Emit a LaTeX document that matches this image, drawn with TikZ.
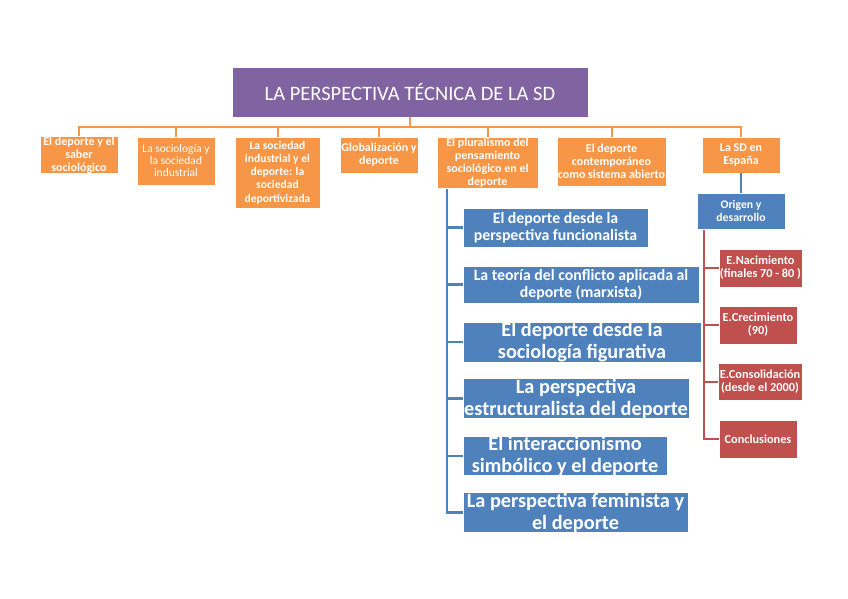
\documentclass[tikz,border=0pt]{standalone}
\usepackage{fontspec}
\setmainfont{Carlito}
\definecolor{cpurple}{HTML}{8064A2}
\definecolor{corange}{HTML}{F79646}
\definecolor{cblue}{HTML}{4F81BD}
\definecolor{cred}{HTML}{C0504D}
\begin{document}
\begin{tikzpicture}[x=1pt,y=-1pt,
  box/.style={rectangle, draw=white, line width=0.6pt, inner sep=0pt, align=center, text=white},
  tbox/.style={box, fill=cpurple, font=\fontsize{20.5}{23}\selectfont},
  obox/.style={box, fill=corange, font=\fontsize{12}{13}\selectfont\bfseries},
  bbox/.style={box, fill=cblue, font=\fontsize{15.8}{17.5}\selectfont\bfseries},
  bigbox/.style={box, fill=cblue, font=\fontsize{20.3}{22}\selectfont\bfseries},
  rbox/.style={box, fill=cred, font=\fontsize{12.3}{13}\selectfont\bfseries},
  oline/.style={draw=corange, line width=2pt},
  bline/.style={draw=cblue, line width=2.5pt},
  rline/.style={draw=cred, line width=2pt}]
\useasboundingbox[fill=white] (0,0) rectangle (848,599);

\node[tbox, minimum width=356pt, minimum height=50pt] (t) at (410,92) {LA PERSPECTIVA TÉCNICA DE LA SD};

\node[obox, minimum width=78pt, minimum height=36pt] (o1) at (79,155) {El deporte y el\\saber\\sociológico};
\node[obox, minimum width=78pt, minimum height=48pt, font=\fontsize{11.5}{12}\selectfont] (o2) at (176,161) {La sociología y\\la sociedad\\industrial};
\node[obox, minimum width=85pt, minimum height=71pt, font=\fontsize{11.6}{13.2}\selectfont\bfseries] (o3) at (277.5,172.5) {La sociedad\\industrial y el\\deporte: la\\sociedad\\deportivizada};
\node[obox, minimum width=78pt, minimum height=36pt] (o4) at (379,155) {Globalización y\\deporte};
\node[obox, minimum width=101pt, minimum height=51pt] (o5) at (487.5,162.5) {El pluralismo del\\pensamiento\\sociológico en el\\deporte};
\node[obox, minimum width=109pt, minimum height=49pt] (o6) at (611.5,161.5) {El deporte\\contemporáneo\\como sistema abierto};
\node[obox, minimum width=78pt, minimum height=36pt] (o7) at (741,155) {La SD en\\España};

\coordinate (bus) at (410,127);
\foreach \i in {1,...,7} {\draw[oline] (t.south) -- (bus) -| (o\i.north);}

\node[box, fill=cblue, minimum width=88pt, minimum height=36pt, font=\fontsize{11.7}{13}\selectfont\bfseries] (og) at (741,211) {Origen y\\desarrollo};
\draw[bline] (o7.south) -- (og.north);

\node[bbox, minimum width=185pt, minimum height=39pt] (b1) at (555.5,227.5) {El deporte desde la\\perspectiva funcionalista};
\node[bbox, minimum width=236pt, minimum height=37pt] (b2) at (581,284.5) {La teoría del conflicto aplicada al\\deporte (marxista)};
\node[bigbox, minimum width=238pt, minimum height=38pt] (b3) at (582,342) {El deporte desde la\\sociología figurativa};
\node[bigbox, minimum width=226pt, minimum height=39pt] (b4) at (576,398.5) {La perspectiva\\estructuralista del deporte};
\node[bigbox, minimum width=204pt, minimum height=38pt] (b5) at (565,456) {El interaccionismo\\simbólico y el deporte};
\node[bigbox, minimum width=225pt, minimum height=39pt] (b6) at (575.5,512.5) {La perspectiva feminista y\\el deporte};

\coordinate (bt) at (447,189);
\foreach \i in {1,...,6} {\draw[bline] (bt) |- (b\i.west);}

\node[rbox, minimum width=83pt, minimum height=38pt] (r1) at (760.5,268) {E.Nacimiento\\(finales 70 - 80 )};
\node[rbox, minimum width=78pt, minimum height=38pt] (r2) at (758,325) {E.Crecimiento\\(90)};
\node[rbox, minimum width=84pt, minimum height=37pt] (r3) at (760,381.5) {E.Consolidación\\(desde el 2000)};
\node[rbox, minimum width=78pt, minimum height=38pt] (r4) at (758,439) {Conclusiones};

\coordinate (rt) at (704,230);
\foreach \i in {1,...,4} {\draw[rline] (rt) |- (r\i.west);}
\end{tikzpicture}
\end{document}
